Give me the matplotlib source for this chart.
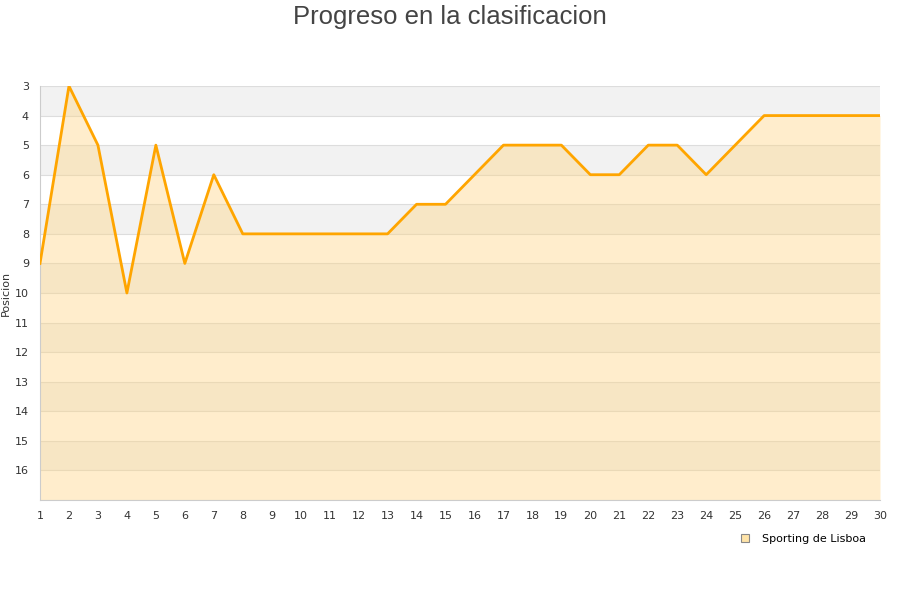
import matplotlib
matplotlib.use("Agg")
from matplotlib import pyplot as plt
from matplotlib.lines import Line2D

jornadas = list(range(1, 31))
posiciones = [9, 3, 5, 10, 5, 9, 6, 8, 8, 8, 8, 8, 8, 7, 7, 6, 5, 5, 5, 6, 6, 5, 5, 6, 5, 4, 4, 4, 4, 4]
equipo = "Sporting de Lisboa"
y_min, y_max = 3, 17

fig = plt.figure(figsize=(9, 6), dpi=100)
ax = fig.add_axes([40 / 900, 1 - 500 / 600, 840 / 900, 414 / 600])

# bandas alternas de fondo
for y in range(y_min, y_max, 2):
    ax.axhspan(y, y + 1, color="#f2f2f2", zorder=0, lw=0)
for y in range(y_min, y_max + 1):
    ax.axhline(y, color="#dddddd", lw=0.8, zorder=1)

ax.fill_between(jornadas, posiciones, y_max, color="#ffd480", alpha=0.4, lw=0, zorder=2)
ax.plot(jornadas, posiciones, color="#ffa500", lw=2.0, zorder=3)

ax.set_xlim(1, 30)
ax.set_ylim(y_max, y_min)
ax.set_xticks(jornadas)
ax.set_yticks(range(3, 17))
ax.tick_params(length=0, labelsize=8, colors="#333333")
ax.tick_params(axis="x", pad=8)
ax.tick_params(axis="y", pad=8)
for s in ["top", "right"]:
    ax.spines[s].set_visible(False)
for s in ["left", "bottom"]:
    ax.spines[s].set_color("#cccccc")
ax.set_ylabel("Posicion", fontsize=8, color="#333333")
ax.yaxis.set_label_coords(-29 / 840, 0.5)

fig.suptitle("Progreso en la clasificacion", fontsize=18.5, color="#444444", y=0.992,
             family=["Liberation Sans", "DejaVu Sans"])

h = Line2D([], [], marker="s", ls="", markersize=6, markerfacecolor="#ffe4a8", markeredgecolor="#888888", markeredgewidth=0.8)
fig.legend([h], [equipo], loc="center", bbox_to_anchor=(800 / 900, 1 - 539 / 600), frameon=False, fontsize=8, handletextpad=0.6)

fig.savefig("out.png", dpi=100)
